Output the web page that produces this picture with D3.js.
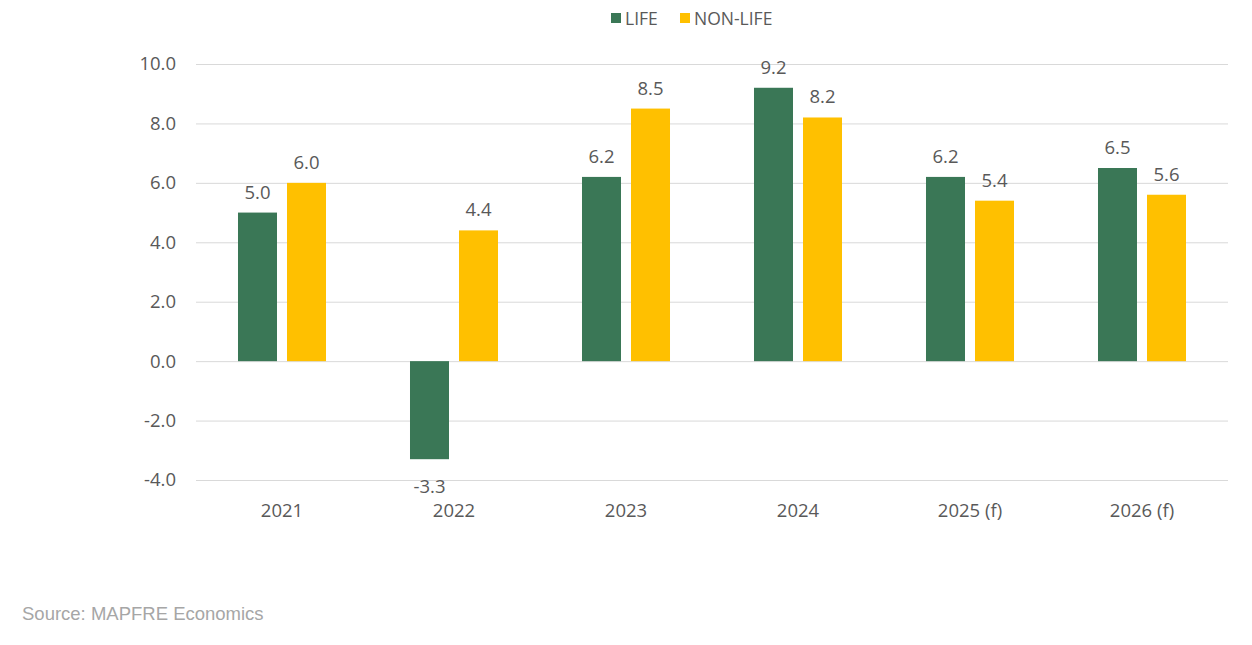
<!DOCTYPE html>
<html>
<head>
<meta charset="utf-8">
<script src="https://cdn.jsdelivr.net/npm/d3@7.9.0/dist/d3.min.js"></script>
<style>
  body { margin: 0; background: #fff; }
  svg { display: block; }
</style>
</head>
<body>
<svg id="chart" width="1252" height="645"></svg>
<script>
// ── Data ───────────────────────────────────────────────────────────────────
const years = ['2021', '2022', '2023', '2024', '2025 (f)', '2026 (f)'];
const seriesNames = ['LIFE', 'NON-LIFE'];
const lifeValues = [5.0, -3.3, 6.2, 9.2, 6.2, 6.5];
const nonLifeValues = [6.0, 4.4, 8.5, 8.2, 5.4, 5.6];
const yTicks = [-4, -2, 0, 2, 4, 6, 8, 10];
const sourceText = 'Source: MAPFRE Economics';

const colors = { 'LIFE': '#3a7756', 'NON-LIFE': '#ffc000' };
const textColor = '#595959';
const font = '"Open Sans", sans-serif';
const fmt = v => d3.format('.1f')(v).replace('−', '-');

const svg = d3.select('#chart');
const margin = { left: 196, right: 24 };
const width = 1252 - margin.left - margin.right;

// y scale: 10 at 64px, -4 at 480px
const y = d3.scaleLinear().domain([-4, 10]).range([480, 64]);

const x0 = d3.scaleBand().domain(years).range([margin.left, margin.left + width]);
const x1 = d3.scaleBand().domain(seriesNames).range([0, x0.bandwidth()])
  .paddingInner(0.204).paddingOuter(0.857);

// ── Gridlines + y axis ─────────────────────────────────────────────────────
const yAxis = d3.axisLeft(y)
  .tickValues(yTicks)
  .tickSize(-width)
  .tickPadding(20)
  .tickFormat(fmt);

const gy = svg.append('g')
  .attr('transform', `translate(${margin.left},0)`)
  .call(yAxis);
gy.select('.domain').remove();
gy.selectAll('.tick line').attr('stroke', '#d9d9d9').attr('stroke-width', 1);
gy.selectAll('.tick text')
  .attr('fill', textColor)
  .style('font-family', font)
  .style('font-size', '18.5px');

// ── Bars ───────────────────────────────────────────────────────────────────
const rows = years.map((yr, i) => ({
  year: yr,
  values: [
    { key: 'LIFE', value: lifeValues[i] },
    { key: 'NON-LIFE', value: nonLifeValues[i] },
  ],
}));

const groups = svg.append('g').selectAll('g')
  .data(rows)
  .join('g')
  .attr('transform', d => `translate(${x0(d.year)},0)`);

groups.selectAll('rect')
  .data(d => d.values)
  .join('rect')
  .attr('x', d => x1(d.key))
  .attr('width', x1.bandwidth())
  .attr('y', d => y(Math.max(0, d.value)))
  .attr('height', d => Math.abs(y(d.value) - y(0)))
  .attr('fill', d => colors[d.key]);

// value labels
groups.selectAll('text.val')
  .data(d => d.values)
  .join('text')
  .attr('class', 'val')
  .attr('x', d => x1(d.key) + x1.bandwidth() / 2)
  .attr('y', d => d.value >= 0 ? y(d.value) - 14 : y(d.value) + 34)
  .attr('text-anchor', 'middle')
  .attr('fill', textColor)
  .style('font-family', font)
  .style('font-size', '18.5px')
  .text(d => fmt(d.value));

// ── X axis labels ──────────────────────────────────────────────────────────
svg.append('g').selectAll('text')
  .data(years)
  .join('text')
  .attr('x', d => x0(d) + x0.bandwidth() / 2)
  .attr('y', 517)
  .attr('text-anchor', 'middle')
  .attr('fill', textColor)
  .style('font-family', font)
  .style('font-size', '18.5px')
  .text(d => d);

// ── Legend ─────────────────────────────────────────────────────────────────
const legendItems = [
  { key: 'LIFE', x: 611 },
  { key: 'NON-LIFE', x: 680 },
];
const legend = svg.append('g').selectAll('g')
  .data(legendItems)
  .join('g')
  .attr('transform', d => `translate(${d.x},13)`);
legend.append('rect')
  .attr('width', 10).attr('height', 10)
  .attr('fill', d => colors[d.key]);
legend.append('text')
  .attr('x', 14).attr('y', 12)
  .attr('fill', textColor)
  .style('font-family', font)
  .style('font-size', '17.5px')
  .text(d => d.key);

// ── Source ─────────────────────────────────────────────────────────────────
svg.append('text')
  .attr('x', 22).attr('y', 620)
  .attr('fill', '#a6a6a6')
  .style('font-family', '"Liberation Sans", Arial, sans-serif')
  .style('font-size', '18.5px')
  .text(sourceText);
</script>
</body>
</html>
